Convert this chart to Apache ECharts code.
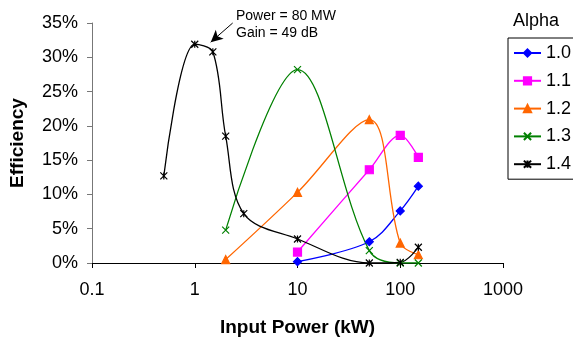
<!DOCTYPE html>
<html>
<head>
<meta charset="utf-8">
<script src="https://cdn.jsdelivr.net/npm/echarts@6/dist/echarts.min.js"></script>
<style>
  html, body { margin: 0; padding: 0; background: #fff; }
  #chart { width: 573px; height: 337px; }
</style>
</head>
<body>
<div id="chart"></div>
<script>
// 数据（效率单位：%）
const alphaNames = ['1.0', '1.1', '1.2', '1.3', '1.4'];
const eff10 = [[10, 0.2], [50, 3.1], [100, 7.6], [150, 11.2]];
const eff11 = [[10, 1.6], [50, 13.6], [100, 18.6], [150, 15.4]];
const eff12 = [[2, 0.5], [10, 10.3], [50, 20.9], [100, 2.9], [150, 1.2]];
const eff13 = [[2, 4.8], [10, 28.2], [50, 1.8], [100, 0], [150, 0]];
const eff14 = [[0.5, 12.7], [1, 31.9], [1.5, 30.8], [2, 18.5], [3, 7.2], [10, 3.5], [50, 0], [100, 0.1], [150, 2.3]];
const yTicks = [0, 5, 10, 15, 20, 25, 30, 35];
// 注释箭头（数据坐标）
const arrowFrom = [2.34, 35];
const arrowTo = [1.43, 32.2];

const FONT = 'Liberation Sans, Arial, sans-serif';
const X_PATH = 'path://M0,0L10,10M10,0L0,10';
const STAR_PATH = 'path://M0,0L10,10M10,0L0,10M5,0L5,10';

const chart = echarts.init(document.getElementById('chart'), null, { renderer: 'canvas' });

function mkSeries(name, data, color, symbol, size, extra) {
  return Object.assign({
    name: name,
    type: 'line',
    data: data,
    smooth: 0.35,
    symbol: symbol,
    symbolSize: size,
    showAllSymbol: true,
    lineStyle: { color: color, width: 1.3 },
    itemStyle: { color: color, borderColor: color, borderWidth: 1.2 },
    emphasis: { disabled: true },
    animation: false
  }, extra || {});
}

const option = {
  animation: false,
  textStyle: { fontFamily: FONT },
  grid: { left: 92, right: 70, top: 23, bottom: 74, outerBoundsMode: 'none', containLabel: false },
  xAxis: {
    type: 'log',
    logBase: 10,
    min: 0.1,
    max: 1000,
    name: 'Input Power (kW)',
    nameLocation: 'middle',
    nameGap: 55,
    nameTextStyle: { fontSize: 19, fontWeight: 'bold', color: '#000', fontFamily: FONT },
    axisLine: { lineStyle: { color: '#000', width: 1 } },
    axisTick: { show: true, length: 5, lineStyle: { color: '#000' } },
    minorTick: { show: false },
    splitLine: { show: false },
    axisLabel: {
      fontSize: 18, color: '#000', margin: 18, fontFamily: FONT,
      formatter: v => String(v)
    }
  },
  yAxis: {
    type: 'value',
    min: yTicks[0],
    max: yTicks[yTicks.length - 1],
    interval: 5,
    name: 'Efficiency',
    nameLocation: 'middle',
    nameGap: 65,
    nameRotate: 90,
    nameTextStyle: { fontSize: 19, fontWeight: 'bold', color: '#000', fontFamily: FONT },
    axisLine: { show: true, lineStyle: { color: '#777', width: 1 } },
    axisTick: { show: true, length: 5, lineStyle: { color: '#777' } },
    splitLine: { show: false },
    axisLabel: { fontSize: 18, color: '#000', margin: 14, fontFamily: FONT, formatter: '{value}%' }
  },
  legend: {
    orient: 'vertical',
    left: 508,
    top: 38,
    padding: [6, 20, 6, 5],
    itemGap: 9.8,
    itemWidth: 27,
    itemHeight: 9,
    borderColor: '#000',
    borderWidth: 1,
    selectedMode: false,
    textStyle: { fontSize: 18, color: '#000', fontFamily: FONT },
    data: alphaNames
  },
  graphic: [
    {
      type: 'text', left: 513, top: 12,
      style: { text: 'Alpha', font: '18px ' + FONT, fill: '#000' }
    },
    {
      type: 'text', left: 236, top: 8,
      style: { text: 'Power = 80 MW\nGain = 49 dB', font: '14px ' + FONT, lineHeight: 17, fill: '#000' }
    }
  ],
  series: [
    mkSeries('1.0', eff10, '#0000FF', 'diamond', 8),
    mkSeries('1.1', eff11, '#FF00FF', 'rect', 8),
    mkSeries('1.2', eff12, '#FF6600', 'triangle', 8),
    mkSeries('1.3', eff13, '#008000', X_PATH, 7),
    mkSeries('1.4', eff14, '#000000', STAR_PATH, 7, {
      markLine: {
        silent: true,
        animation: false,
        symbol: ['none', 'arrow'],
        symbolSize: [9, 12],
        label: { show: false },
        lineStyle: { color: '#000', type: 'solid', width: 1 },
        data: [[{ coord: arrowFrom }, { coord: arrowTo }]]
      }
    })
  ]
};

chart.setOption(option);
</script>
</body>
</html>
